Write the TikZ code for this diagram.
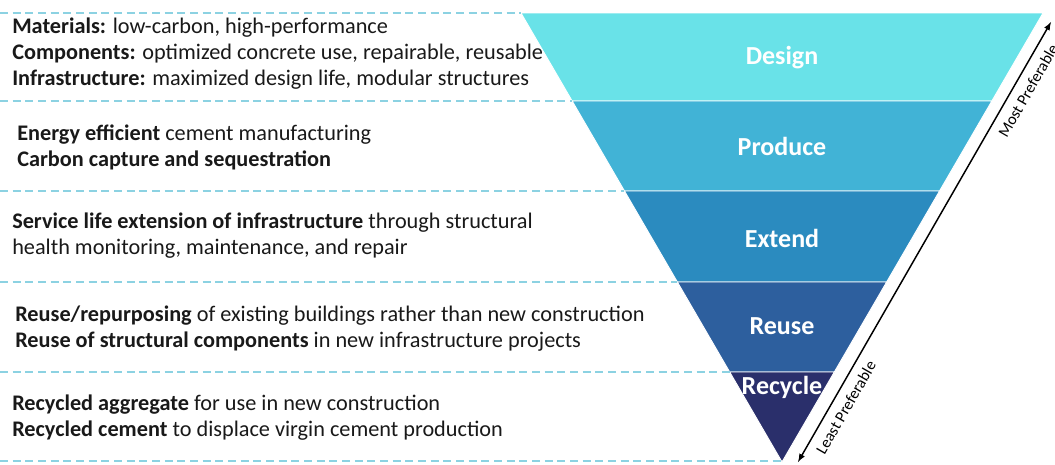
\documentclass[tikz,border=0pt]{standalone}
\usepackage{fontspec}
\setmainfont{Carlito}

\begin{document}
\begin{tikzpicture}[x=0.75pt, y=-0.75pt,
    stufe/.style={draw=white, line width=0.7pt, line join=round},
    trenner/.style={trennblau, line width=0.8pt, dash pattern=on 6pt off 3.5pt},
    beschreibung/.style={anchor=west, align=left, inner sep=0pt, text=black!90,
      font=\fontsize{16.7}{19.5}\selectfont},
    stufentext/.style={white, font=\fontsize{19.5}{22}\selectfont\bfseries},
    pfeil/.style={<->, >=latex, line width=1.1pt},
    pfeiltext/.style={font=\fontsize{12}{14}\selectfont, sloped, below, inner sep=6pt},
  ]
  \definecolor{design}{RGB}{105,226,232}
  \definecolor{produce}{RGB}{65,179,214}
  \definecolor{extend}{RGB}{43,139,191}
  \definecolor{reuse}{RGB}{45,95,158}
  \definecolor{recycle}{RGB}{42,47,107}
  \definecolor{trennblau}{RGB}{140,210,226}

  \useasboundingbox (0,0) rectangle (1055,464);

  % Trichter: linke Kante x = 521 + (y-13)*0.5813, rechte Kante gespiegelt bei x = 782
  \foreach \yo/\yu/\farbe/\name/\ty in {13/101/design/Design/58,
      101/191/produce/Produce/146, 191/282/extend/Extend/238,
      282/372/reuse/Reuse/326, 372/462/recycle/Recycle/387} {
    \fill[\farbe, stufe] ({521+(\yo-13)*0.5813},\yo) -- ({1043-(\yo-13)*0.5813},\yo)
      -- ({1043-(\yu-13)*0.5813},\yu) -- ({521+(\yu-13)*0.5813},\yu) -- cycle;
    \node[stufentext] (\name) at (782,\ty) {\name};
  }

  % gestrichelte Trennlinien bis zur Trichterkante
  \foreach \y in {13,101,191,282,372,461}
    \draw[trenner] (0,\y) -- ({521+(\y-13)*0.5813},\y);

  % ---------------- Beschreibungen ----------------------------------
  \node[beschreibung] (materialien) at (12,54) {\textbf{Materials:} low-carbon, high-performance\\
    \textbf{Components:} optimized concrete use, repairable, reusable\\
    \textbf{Infrastructure:} maximized design life, modular structures};
  \node[beschreibung] (zement) at (17,147.5) {\textbf{Energy efficient} cement manufacturing\\
    \textbf{Carbon capture and sequestration}};
  \node[beschreibung] (lebensdauer) at (12,236) {\textbf{Service life extension of infrastructure} through structural\\
    health monitoring, maintenance, and repair};
  \node[beschreibung] (wiederverwendung) at (15,329) {\textbf{Reuse/repurposing} of existing buildings rather than new construction\\
    \textbf{Reuse of structural components} in new infrastructure projects};
  \node[beschreibung] (recycling) at (12,417.5) {\textbf{Recycled aggregate} for use in new construction\\
    \textbf{Recycled cement} to displace virgin cement production};

  % ---------------- Rangfolge am rechten Rand -----------------------
  \coordinate (unten) at (798,462);
  \coordinate (oben) at (1051,22);
  \draw[pfeil] (unten) -- (oben)
    node[pfeiltext, pos=0.14] (wenig) {Least Preferable}
    node[pfeiltext, pos=0.86] (meist) {Most Preferable};
\end{tikzpicture}
\end{document}
